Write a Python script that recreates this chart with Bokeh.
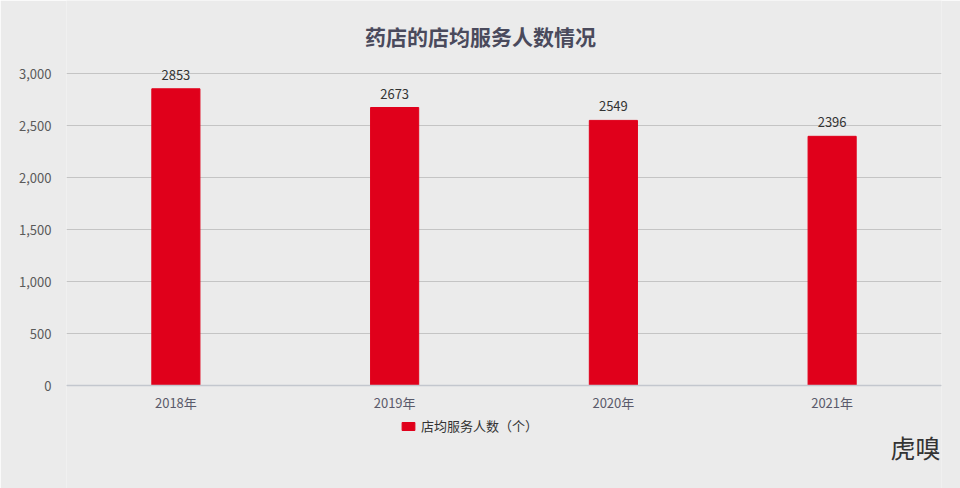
from bokeh.plotting import figure
from bokeh.models import (ColumnDataSource, FactorRange, Range1d, NumeralTickFormatter,
                          Label, Legend, LegendItem, Span)
from bokeh.core.properties import value
from bokeh.embed import file_html
from bokeh.resources import INLINE

title_text = "药店的店均服务人数情况"
years = ["2018年", "2019年", "2020年", "2021年"]
counts = [2853, 2673, 2549, 2396]
series_name = "店均服务人数（个）"
y_ticks = [0, 500, 1000, 1500, 2000, 2500, 3000]
watermark = "虎嗅"

BG = "#ebebeb"
RED = "#e0001b"
FONT = "Noto Sans CJK SC"

# layout (pixels): figure 960x488, value axis 0..3000 spans y=385..73
W, H = 960, 488
Y0_PX, Y3000_PX = 385, 73
per_px = 3000 / (Y0_PX - Y3000_PX)
y_lo = -(H - Y0_PX) * per_px
y_hi = 3000 + Y3000_PX * per_px

src = ColumnDataSource(dict(x=years, y=counts, lab=[str(v) for v in counts]))

p = figure(width=W, height=H, output_backend="svg", toolbar_location=None,
           x_range=FactorRange(*years, range_padding=0), y_range=Range1d(y_lo, y_hi),
           min_border_left=66, min_border_right=19, min_border_top=0, min_border_bottom=0)
p.background_fill_color = BG
p.border_fill_color = BG
p.outline_line_color = None

r = p.vbar(x="x", top="y", bottom=0, width=0.22, source=src, fill_color=RED, line_color=RED)
p.text(x="x", y="y", text="lab", source=src, text_align="center", text_baseline="bottom",
       y_offset=-9, text_font=value(FONT), text_font_size="13px", text_color="#333333")

# category labels under the baseline
xl = ColumnDataSource(dict(x=years, y=[0] * len(years), t=years))
p.text(x="x", y="y", text="t", source=xl, text_align="center", text_baseline="middle",
       y_offset=17, text_font=value(FONT), text_font_size="13px", text_color="#5a5a6a")

p.xaxis.visible = False
p.xgrid.grid_line_color = None
p.ygrid.ticker = y_ticks
p.ygrid.grid_line_color = "#c4c4c4"
p.ygrid.grid_line_width = 1
p.add_layout(Span(location=0, dimension="width", line_color="#c3c7ce", line_width=1.5))

p.yaxis.ticker = y_ticks
p.yaxis.formatter = NumeralTickFormatter(format="0,0")
p.yaxis.axis_line_color = None
p.yaxis.major_tick_line_color = None
p.yaxis.minor_tick_line_color = None
p.yaxis.major_label_standoff = 9
p.yaxis.major_label_text_font = FONT
p.yaxis.major_label_text_font_size = "13px"
p.yaxis.major_label_text_color = "#5a5a5a"

legend = Legend(items=[LegendItem(label=series_name, renderers=[r])], orientation="horizontal",
                location=(334, 53), background_fill_alpha=0, border_line_color=None,
                label_text_font=FONT, label_text_font_size="13px", label_text_color="#333333",
                glyph_width=16, glyph_height=10, margin=0, padding=2)
p.add_layout(legend, "center")

p.add_layout(Label(x=414, y=H - 35, x_units="screen", y_units="screen", text=title_text,
                   text_align="center", text_baseline="middle", text_font=FONT,
                   text_font_size="21px", text_font_style="bold", text_color="#4a4a5c"))
p.add_layout(Label(x=874, y=H - 446, x_units="screen", y_units="screen", text=watermark,
                   text_align="right", text_baseline="middle", text_font=FONT,
                   text_font_size="25px", text_color="#333333"))

open("out.html", "w").write(file_html(p, INLINE))
